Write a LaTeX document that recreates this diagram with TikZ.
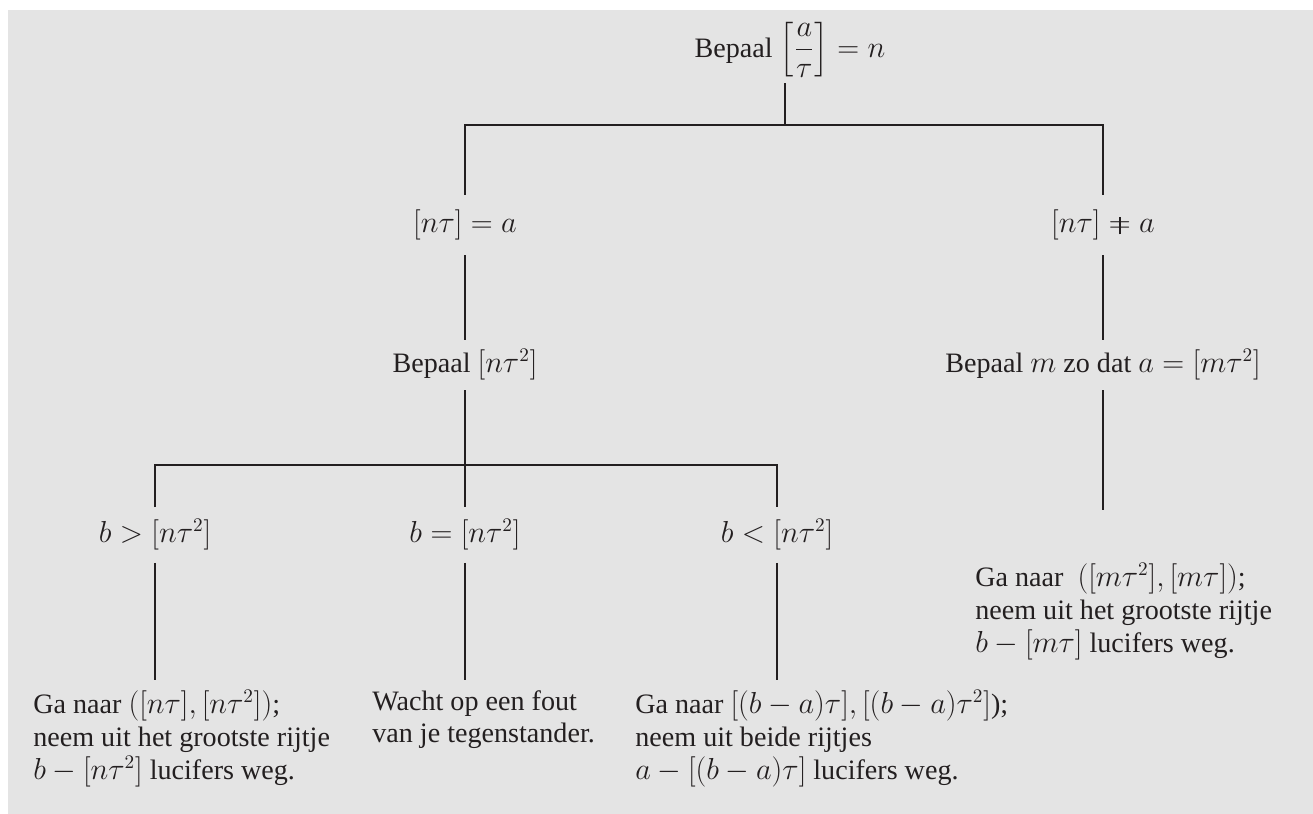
\documentclass[tikz,border=0pt]{standalone}
\usepackage{amsmath}
\usepackage{fontspec}
\setmainfont{Liberation Serif}
\usepackage{tikz}
\usetikzlibrary{positioning}

\definecolor{panel}{HTML}{E4E4E4}
\definecolor{ink}{HTML}{231F20}
\newcommand{\nisgelijk}{\mathrel{\ooalign{$=$\cr\hidewidth\rule[-0.06em]{0.05em}{0.62em}\hidewidth\cr}}}

\begin{document}
\begin{tikzpicture}[
  x=0.02cm, y=-0.02cm,
  every node/.style = {text=ink, font=\fontsize{16}{18.7}\selectfont},
  cond/.style = {inner sep=0pt, minimum height=1.2cm},
  act/.style = {inner xsep=0pt, inner ysep=0.2cm, anchor=north west, align=left},
  line/.style = {draw=ink, line width=1.1pt}
]

\fill[panel] (8,10) rectangle (1313,814);
\useasboundingbox (0,0) rectangle (1313,814);

% first choice
\node[cond, minimum height=1.32cm] (start) at (790,50) {Bepaal $\Bigl[\dfrac{a}{\tau}\Bigr] = n$};
\coordinate (split1) at (785,125);
\node[cond] (eqa) at (465,225) {$[n\tau] = a$};
\node[cond] (neqa) at (1103,225) {$[n\tau] \nisgelijk a$};

\node[cond, minimum height=1.0cm] (bepn) at (465,365) {Bepaal $[n\tau^2]$};
\node[cond, minimum height=1.0cm] (bepm) at (1103,365) {Bepaal $m$ zo dat $a = [m\tau^2]$};

% second choice
\coordinate (split2) at (465,465);
\node[cond, minimum height=1.1cm] (gt) at (155,535) {$b > [n\tau^2]$};
\node[cond, minimum height=1.1cm] (eq) at (465,535) {$b = [n\tau^2]$};
\node[cond, minimum height=1.1cm] (lt) at (777,535) {$b < [n\tau^2]$};

% moves
\node[act] (gttxt) at (33,680) {Ga naar $([n\tau], [n\tau^2])$;\\neem uit het grootste rijtje\\$b - [n\tau^2]$ lucifers weg.};
\node[act] (eqtxt) at (372,680) {Wacht op een fout\\van je tegenstander.};
\node[act] (lttxt) at (635,680) {Ga naar $[(b - a)\tau], [(b - a)\tau^2]$);\\neem uit beide rijtjes\\$a - [(b - a)\tau]$ lucifers weg.};
\node[act] (mtxt) at (975,553) {Ga naar \ $([m\tau^2], [m\tau])$;\\neem uit het grootste rijtje\\$b - [m\tau]$ lucifers weg.};

% tree lines
\draw[line] (start.south -| split1) -- (split1);
\draw[line] (eqa) -- (eqa.north |- split1) -- (neqa.north |- split1) -- (neqa);
\draw[line] (eqa) -- (bepn);
\draw[line] (neqa) -- (bepm);
\draw[line] (bepn) -- (eq);
\draw[line] (gt) -- (gt.north |- split2) -- (lt.north |- split2) -- (lt);
\draw[line] (gt) -- (gt.south |- gttxt.north);
\draw[line] (eq) -- (eq.south |- eqtxt.north);
\draw[line] (lt) -- (lt.south |- lttxt.north);
\draw[line, shorten >=0.86cm] (bepm) -- (bepm.south |- mtxt.north);
\end{tikzpicture}
\end{document}
